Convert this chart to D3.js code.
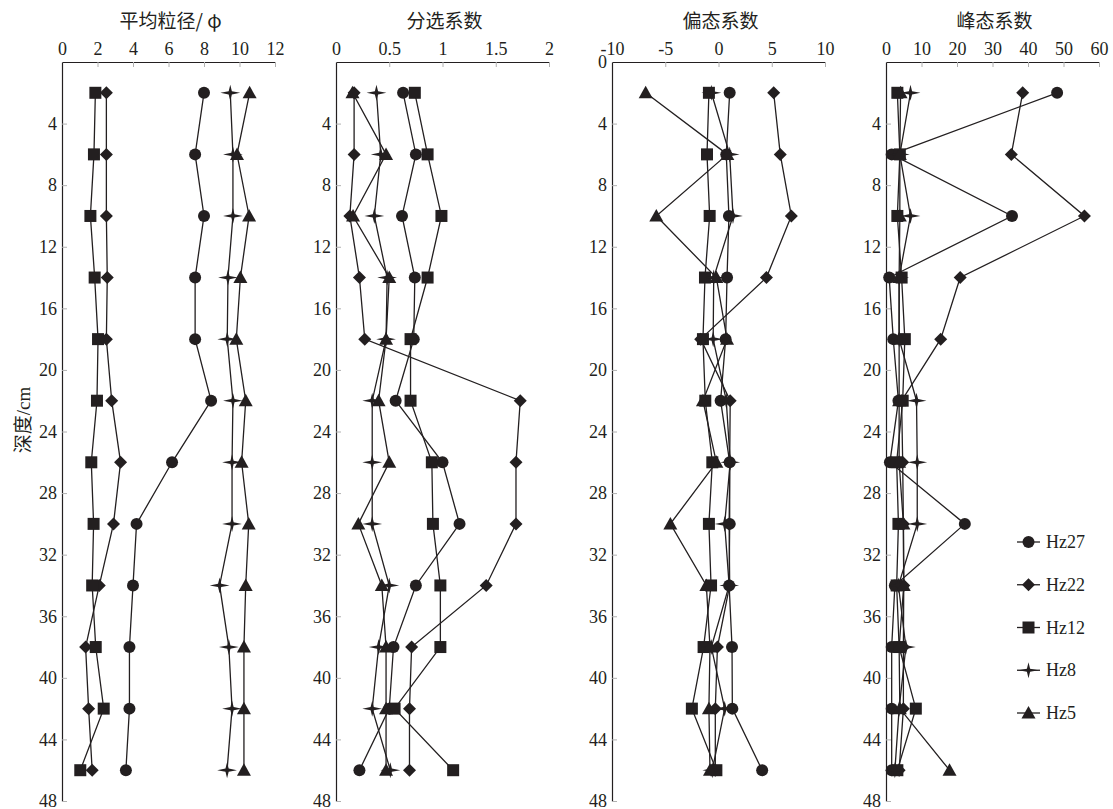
<!DOCTYPE html>
<html>
<head>
<meta charset="utf-8">
<script src="https://cdn.jsdelivr.net/npm/d3@7"></script>
<style>
body { margin: 0; background: #fff; }
svg text { fill: #231f20; }
.tick line { stroke: #b0b0b0; }
.domain { stroke: #231f20; stroke-width: 1.2; }
</style>
</head>
<body>
<svg id="chart" width="1113" height="809"></svg>
<script>
var depths = [2, 6, 10, 14, 18, 22, 26, 30, 34, 38, 42, 46];
var series = ["Hz27", "Hz22", "Hz12", "Hz8", "Hz5"];
var shapes = ["circle", "diamond", "square", "star", "triangle"];

// rows follow series order: Hz27, Hz22, Hz12, Hz8, Hz5
var meanSize = [
	[8.0, 7.5, 8.0, 7.5, 7.5, 8.4, 6.2, 4.2, 4.0, 3.8, 3.8, 3.6],
	[2.5, 2.5, 2.5, 2.55, 2.5, 2.8, 3.3, 2.9, 2.1, 1.33, 1.5, 1.7],
	[1.88, 1.8, 1.6, 1.84, 2.03, 1.97, 1.65, 1.78, 1.7, 1.9, 2.35, 1.03],
	[9.48, 9.63, 9.63, 9.35, 9.31, 9.63, 9.58, 9.58, 8.88, 9.4, 9.58, 9.3],
	[10.57, 9.86, 10.54, 10.05, 9.82, 10.35, 10.12, 10.52, 10.35, 10.25, 10.25, 10.25]
];
var sorting = [
	[0.63, 0.75, 0.62, 0.74, 0.73, 0.56, 1.0, 1.16, 0.75, 0.54, 0.5, 0.22],
	[0.17, 0.17, 0.13, 0.22, 0.27, 1.73, 1.69, 1.69, 1.41, 0.71, 0.69, 0.69],
	[0.74, 0.86, 0.99, 0.86, 0.70, 0.70, 0.9, 0.91, 0.98, 0.98, 0.55, 1.10],
	[0.38, 0.42, 0.36, 0.48, 0.47, 0.34, 0.34, 0.34, 0.50, 0.40, 0.34, 0.51],
	[0.155, 0.47, 0.16, 0.50, 0.47, 0.40, 0.50, 0.21, 0.43, 0.47, 0.47, 0.47]
];
var skewness = [
	[1.05, 0.73, 0.98, 0.8, 0.67, 0.2, 1.05, 1.05, 1.0, 1.27, 1.3, 4.1],
	[5.18, 5.8, 6.84, 4.5, -1.67, 1.1, 1.05, 1.0, 1.05, -0.1, -0.3, -0.3],
	[-0.9, -1.08, -0.83, -1.27, -1.46, -1.24, -0.58, -0.9, -0.7, -1.4, -2.5, -0.2],
	[-0.67, 1.05, 1.36, -0.45, -0.5, 0.73, 1.1, 0.58, 1.0, -0.67, 0.58, -0.58],
	[-6.84, 0.83, -5.84, -0.2, 0.8, -1.46, -0.2, -4.52, -1.14, -0.8, -0.9, -0.8]
];
var kurtosis = [
	[48.2, 1.6, 35.5, 0.9, 2.05, 3.5, 1.1, 22.2, 2.5, 1.6, 1.6, 1.6],
	[38.5, 35.3, 55.9, 20.9, 15.4, 4.4, 4.7, 4.9, 5.0, 4.9, 4.9, 3.7],
	[3.2, 3.9, 3.2, 4.4, 5.3, 4.7, 3.0, 3.5, 3.0, 3.7, 8.4, 3.2],
	[6.9, 3.9, 6.9, 3.7, 3.7, 8.6, 8.8, 8.8, 3.5, 5.6, 3.7, 2.5],
	[4.1, 3.9, 3.9, 3.7, 3.7, 3.7, 3.7, 4.9, 5.0, 3.7, 3.9, 17.9]
];

var panelTitles = ["平均粒径/ φ", "分选系数", "偏态系数", "峰态系数"];
var panelDomains = [[0, 12], [0, 2], [-10, 10], [0, 60]];
var panelTicks = [[0, 2, 4, 6, 8, 10, 12], [0, 0.5, 1, 1.5, 2], [-10, -5, 0, 5, 10], [0, 10, 20, 30, 40, 50, 60]];
var panelLeft = [62, 336, 612, 886];
var panelWidth = 213;
var depthTicks = [4, 8, 12, 16, 20, 24, 28, 32, 36, 40, 44, 48];

var ink = "#231f20";
var serif = "'Liberation Serif', 'DejaVu Serif', serif";
var cjk = "'Noto Sans CJK SC', sans-serif";

var svg = d3.select("#chart");
var y = d3.scaleLinear().domain([0, 48]).range([62, 801]);

function starPath(size) {
	var a = size * 0.62, b = size * 0.5, c = size * 0.1;
	return "M" + (-a) + ",0L" + (-c) + "," + (-c) + "L0," + (-b) + "L" + c + "," + (-c) +
		"L" + a + ",0L" + c + "," + c + "L0," + b + "L" + (-c) + "," + c + "Z";
}

function drawMarker(g, shape, cx, cy) {
	if (shape == "circle") {
		g.append("circle").attr("cx", cx).attr("cy", cy).attr("r", 6).attr("fill", ink);
	} else if (shape == "square") {
		g.append("rect").attr("x", cx - 6).attr("y", cy - 6).attr("width", 12).attr("height", 12).attr("fill", ink);
	} else if (shape == "diamond") {
		g.append("path").attr("d", "M" + cx + "," + (cy - 6.5) + "L" + (cx + 6.5) + "," + cy + "L" + cx + "," + (cy + 6.5) + "L" + (cx - 6.5) + "," + cy + "Z").attr("fill", ink);
	} else if (shape == "triangle") {
		g.append("path").attr("d", "M" + cx + "," + (cy - 7) + "L" + (cx + 7) + "," + (cy + 5.5) + "L" + (cx - 7) + "," + (cy + 5.5) + "Z").attr("fill", ink);
	} else {
		g.append("path").attr("transform", "translate(" + cx + "," + cy + ")").attr("d", starPath(16)).attr("fill", ink);
	}
}

var panelData = [meanSize, sorting, skewness, kurtosis];

for (var p = 0; p < 4; ++p) {
	var x = d3.scaleLinear().domain(panelDomains[p]).range([panelLeft[p], panelLeft[p] + panelWidth]);
	var g = svg.append("g");

	var xAxis = d3.axisTop(x).tickValues(panelTicks[p]).tickSizeInner(-5).tickSizeOuter(0).tickPadding(7)
		.tickFormat(function(d) { return String(d); });
	var gx = g.append("g").attr("transform", "translate(0," + y(0) + ")").call(xAxis);
	gx.selectAll("text").style("font-family", serif).style("font-size", "18px");

	var yTicks = (p == 2) ? [0].concat(depthTicks) : depthTicks;
	var yAxis = d3.axisLeft(y).tickValues(yTicks).tickSizeInner(-5).tickSizeOuter(0).tickPadding(5);
	var gy = g.append("g").attr("transform", "translate(" + panelLeft[p] + ",0)").call(yAxis);
	gy.selectAll("text").style("font-family", serif).style("font-size", "18px");
	gy.selectAll(".tick").filter(function(d) { return d == 0; }).select("line").remove();

	g.append("text")
		.attr("x", panelLeft[p] + panelWidth / 2 + 2)
		.attr("y", 28)
		.attr("text-anchor", "middle")
		.style("font-family", cjk)
		.style("font-size", "19px")
		.text(panelTitles[p]);

	var data = panelData[p];
	var line = d3.line()
		.x(function(d) { return x(d[0]); })
		.y(function(d) { return y(d[1]); });
	for (var s = 0; s < series.length; ++s) {
		var pts = data[s].map(function(v, i) { return [v, depths[i]]; });
		g.append("path").datum(pts)
			.attr("d", line)
			.attr("fill", "none")
			.attr("stroke", ink)
			.attr("stroke-width", 1.3);
	}
	for (var s = 0; s < series.length; ++s) {
		for (var i = 0; i < depths.length; ++i) {
			drawMarker(g, shapes[s], x(data[s][i]), y(depths[i]));
		}
	}
}

// y axis title
svg.append("text")
	.attr("transform", "translate(30,420) rotate(-90)")
	.attr("text-anchor", "middle")
	.style("font-size", "19px")
	.call(function(t) {
		t.append("tspan").style("font-family", cjk).text("深度");
		t.append("tspan").style("font-family", serif).text("/cm");
	});

// legend
var legendY = d3.scaleLinear().domain([0, 4]).range([542, 713]);
for (var s = 0; s < series.length; ++s) {
	var ly = legendY(s);
	svg.append("line").attr("x1", 1017).attr("x2", 1040).attr("y1", ly).attr("y2", ly)
		.attr("stroke", ink).attr("stroke-width", 1.3);
	drawMarker(svg, shapes[s], 1028.5, ly);
	svg.append("text").attr("x", 1046).attr("y", ly + 6)
		.style("font-family", serif).style("font-size", "18px")
		.text(series[s]);
}
</script>
</body>
</html>
